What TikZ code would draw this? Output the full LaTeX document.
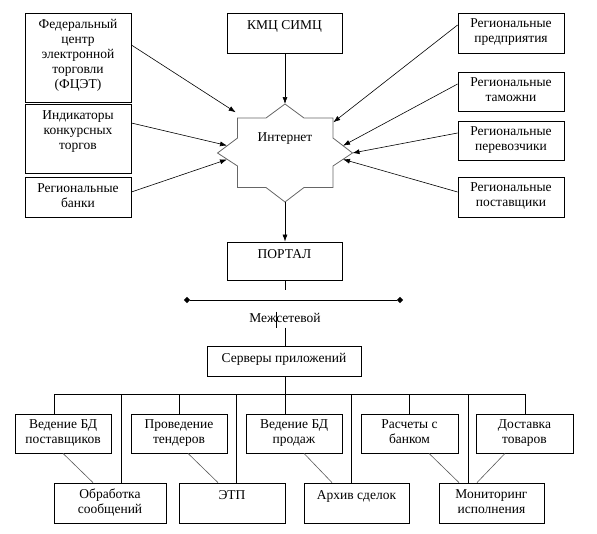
\documentclass[tikz,border=0pt]{standalone}
\usepackage{fontspec}
\setmainfont{Liberation Serif}
\usetikzlibrary{arrows.meta,positioning,shapes.geometric}
\tikzset{
  box/.style={draw, line width=0.8pt, inner sep=0pt},
  txt/.style={align=center, inner sep=0pt, font=\fontsize{13.5}{15}\selectfont, execute at begin node=\strut},
  arr/.style={line width=0.6pt, -{Latex[length=7pt,width=5pt]}},
  lnk/.style={line width=0.8pt},
  thn/.style={line width=0.6pt, black!65},
}
\begin{document}
\begin{tikzpicture}[x=1pt,y=-1pt]
\useasboundingbox (0,0) rectangle (597,533);

% sources on the left
\node[box, minimum width=106, minimum height=89] (fcet) at (78,57.5) {};
\node[box, minimum width=106, minimum height=69] (ind) at (78,138.5) {};
\node[box, minimum width=106, minimum height=40] (bank) at (78,197) {};
\node[txt, below=6.5pt of fcet.north] (fcet-t) {Федеральный\\центр\\электронной\\торговли\\(ФЦЭТ)};
\node[txt, below=6.5pt of ind.north] (ind-t) {Индикаторы\\конкурсных\\торгов};
\node[txt, below=6.5pt of bank.north] (bank-t) {Региональные\\банки};

% top
\node[box, minimum width=115, minimum height=40] (kmc) at (284.5,33) {};
\node[txt, below=6.5pt of kmc.north] (kmc-t) {КМЦ СИМЦ};

% sources on the right
\node[box, minimum width=106, minimum height=40] (pred) at (511,33) {};
\node[box, minimum width=106, minimum height=39] (tam) at (511,91.5) {};
\node[box, minimum width=106, minimum height=39] (perev) at (511,140.5) {};
\node[box, minimum width=106, minimum height=40] (post) at (511,197) {};
\node[txt, below=6pt of pred.north] (pred-t) {Региональные\\предприятия};
\node[txt, below=6pt of tam.north] (tam-t) {Региональные\\таможни};
\node[txt, below=6pt of perev.north] (perev-t) {Региональные\\перевозчики};
\node[txt, below=6pt of post.north] (post-t) {Региональные\\поставщики};

% internet
\draw[line width=0.8pt, black!60] (285,104) -- (304,118) -- (333,118) -- (333,138) -- (352.5,153) -- (333,166) -- (333,187.5) -- (304,187.5) -- (285,202) -- (266,187.5) -- (237.5,187.5) -- (237.5,166) -- (217.5,153) -- (237.5,138) -- (237.5,118) -- (266,118) -- cycle;
\node[txt, anchor=base] (inet) at (285,141.7) {Интернет};

\coordinate (inA) at (235.7,112.3);
\coordinate (inB) at (227,145.5);
\coordinate (inC) at (227,159.5);
\coordinate (inD) at (285,104);
\coordinate (inE) at (333.3,122.3);
\coordinate (inF) at (343,145.7);
\coordinate (inG) at (352.5,153);
\coordinate (inH) at (343,159.3);
\coordinate (inS) at (285,202);

\draw[arr] ([yshift=12.5pt]fcet.east) -- (inA);
\draw[arr] ([yshift=15.5pt]ind.east) -- (inB);
\draw[arr] ([yshift=5pt]bank.east) -- (inC);
\draw[arr] (kmc.south -| inD) -- (inD);
\draw[arr] ([yshift=8pt]pred.west) -- (inE);
\draw[arr] ([yshift=7.5pt]tam.west) -- (inF);
\draw[arr] ([yshift=7.5pt]perev.west) -- (inG);
\draw[arr] ([yshift=5pt]post.west) -- (inH);

% portal and firewall
\node[box, minimum width=115, minimum height=38] (portal) at (284.5,261) {};
\node[txt, below=6.5pt of portal.north] (portal-t) {ПОРТАЛ};
\draw[arr] (inS) -- (portal.north -| inS);

\coordinate (fwA) at (285,290);
\coordinate (fwB) at (285,327.7);
\draw[lnk] (portal.south -| fwA) -- (fwA);
\node[diamond, fill, inner sep=1.6pt] (dl) at (187,300) {};
\node[diamond, fill, inner sep=1.6pt] (dr) at (400,300) {};
\draw[line width=1pt] (dl) -- (dr);
\node[txt, anchor=base] (fw) at (285,322.7) {Межсетевой};
\draw[lnk] (276.7,311.7) -- (276.7,328);

\node[box, minimum width=154, minimum height=30] (serv) at (284,361) {};
\node[txt, below=6pt of serv.north] (serv-t) {Серверы приложений};
\draw[lnk] (fwB) -- (serv.north -| fwB);

% bus
\coordinate (busL) at (54,394);
\coordinate (busR) at (525,394);
\draw[lnk] (busL) -- (busR);
\draw[lnk] (serv.south -| fwB) -- (fwB |- busL);

% upper row
\node[box, minimum width=96, minimum height=39] (vbdp) at (63,433.5) {};
\node[box, minimum width=96, minimum height=39] (tend) at (179,433.5) {};
\node[box, minimum width=96, minimum height=39] (vbdpr) at (294,433.5) {};
\node[box, minimum width=97, minimum height=39] (rasch) at (409.5,433.5) {};
\node[box, minimum width=97, minimum height=39] (dost) at (524.5,433.5) {};
\node[txt, below=6pt of vbdp.north] (vbdp-t) {Ведение БД\\поставщиков};
\node[txt, below=6pt of tend.north] (tend-t) {Проведение\\тендеров};
\node[txt, below=6pt of vbdpr.north] (vbdpr-t) {Ведение БД\\продаж};
\node[txt, below=6pt of rasch.north] (rasch-t) {Расчеты с\\банком};
\node[txt, below=6pt of dost.north] (dost-t) {Доставка\\товаров};

% lower row
\node[box, minimum width=112, minimum height=40] (obr) at (110,503) {};
\node[box, minimum width=106, minimum height=40] (etp) at (232,503) {};
\node[box, minimum width=105, minimum height=40] (arh) at (356.5,503) {};
\node[box, minimum width=105, minimum height=40] (mon) at (491.5,503) {};
\node[txt, below=6.5pt of obr.north] (obr-t) {Обработка\\сообщений};
\node[txt, below=6.5pt of etp.north] (etp-t) {ЭТП};
\node[txt, below=6.5pt of arh.north] (arh-t) {Архив сделок};
\node[txt, below=6.5pt of mon.north] (mon-t) {Мониторинг\\исполнения};

% drops from the bus
\draw[lnk] (busL) -- (busL |- vbdp.north);
\draw[lnk] ([xshift=11pt]obr.north) -- ([xshift=11pt]obr.north |- busL);
\draw[lnk] (tend.north) -- (tend.north |- busL);
\draw[lnk] ([xshift=4pt]etp.north) -- ([xshift=4pt]etp.north |- busL);
\draw[lnk] ([xshift=-9pt]vbdpr.north) -- ([xshift=-9pt]vbdpr.north |- busL);
\draw[lnk] ([xshift=-5.5pt]arh.north) -- ([xshift=-5.5pt]arh.north |- busL);
\draw[lnk] (rasch.north) -- (rasch.north |- busL);
\draw[lnk] ([xshift=-23.5pt]mon.north) -- ([xshift=-23.5pt]mon.north |- busL);
\draw[lnk] (busR) -- (busR |- dost.north);

% thin links between rows
\draw[thn] (vbdp.south) -- ([xshift=-17pt]obr.north);
\draw[thn] ([xshift=9pt]tend.south) -- ([xshift=-14pt]etp.north);
\draw[thn] ([xshift=10pt]vbdpr.south) -- ([xshift=-24.5pt]arh.north);
\draw[thn] ([xshift=19.5pt]rasch.south) -- ([xshift=-32.5pt]mon.north);
\draw[thn] ([xshift=-19.5pt]dost.south) -- ([xshift=-14.5pt]mon.north);

\end{tikzpicture}
\end{document}
